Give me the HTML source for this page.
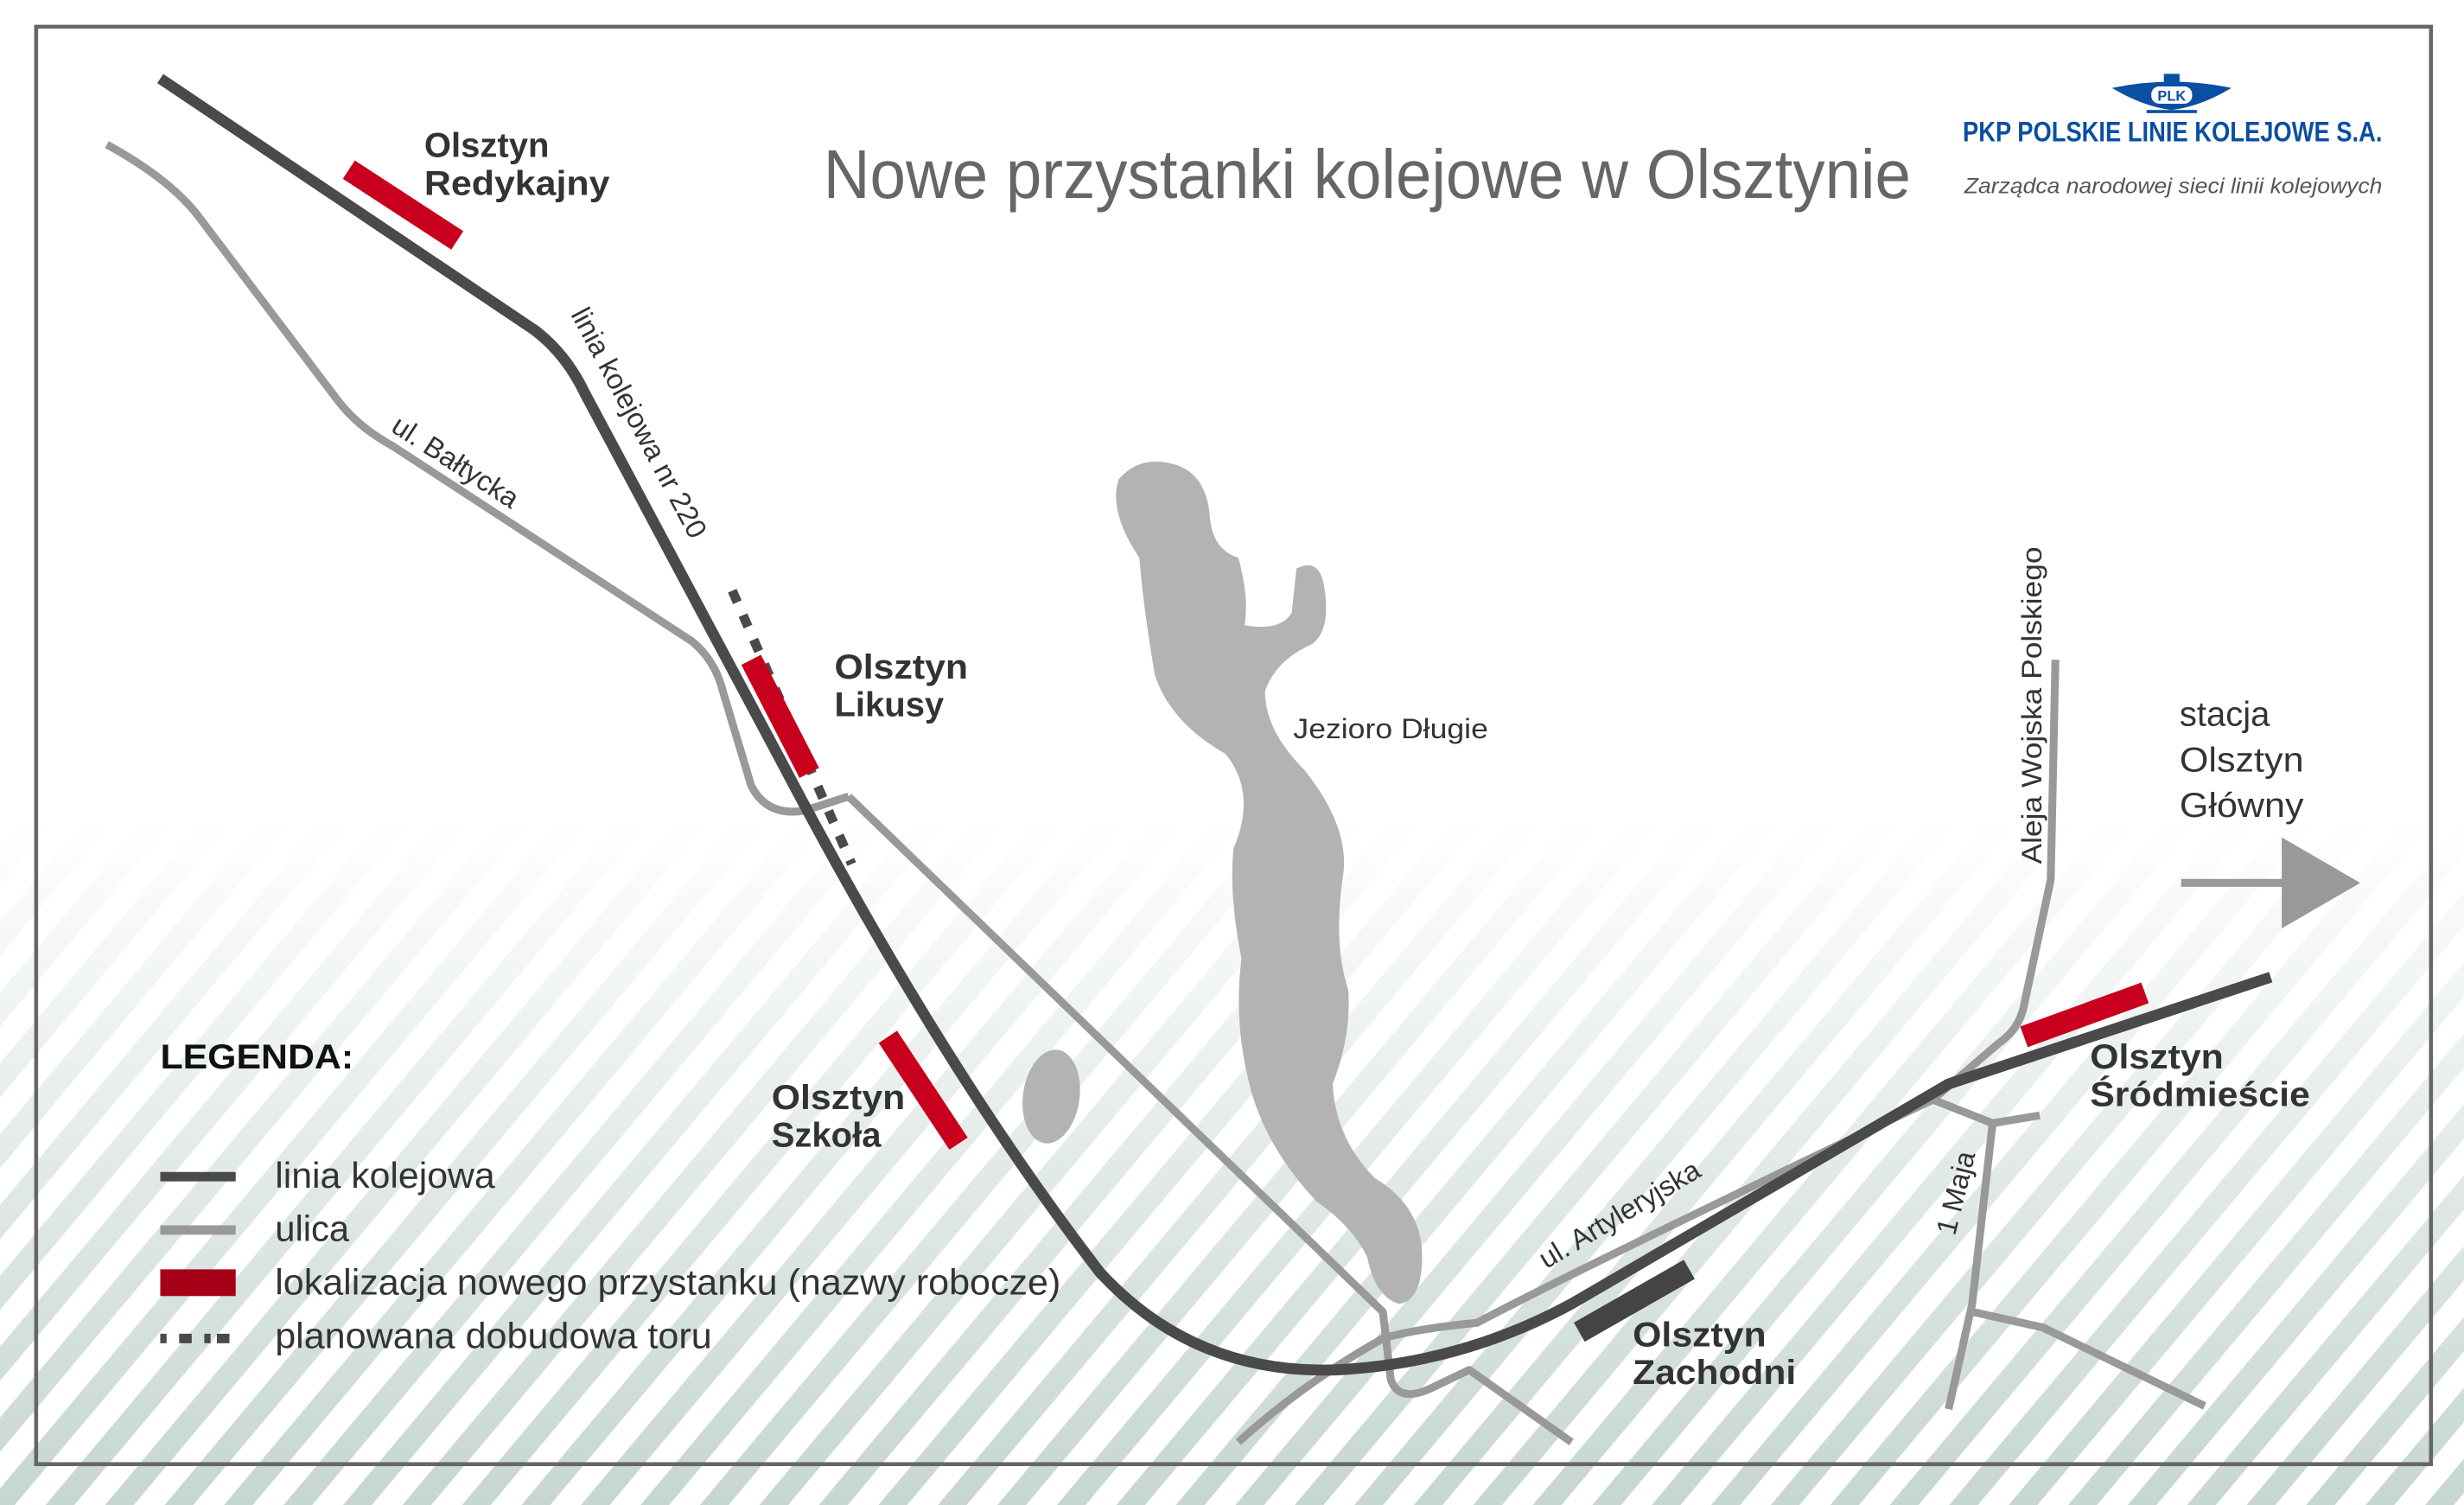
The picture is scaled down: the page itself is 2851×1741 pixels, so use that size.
<!DOCTYPE html>
<html><head><meta charset="utf-8"><style>
html,body{margin:0;padding:0;background:#fff;}
svg{display:block;}
text{font-family:"Liberation Sans",sans-serif;}
</style></head><body>
<svg width="2851" height="1741" viewBox="0 0 1568 958" preserveAspectRatio="none" xmlns="http://www.w3.org/2000/svg">
<defs>
<pattern id="st" width="29" height="29" patternUnits="userSpaceOnUse" patternTransform="rotate(-50)">
<rect x="0" y="0" width="29" height="14" fill="#c6d6d2"/>
</pattern>
<linearGradient id="fg" x1="0" y1="0" x2="0" y2="1">
<stop offset="0" stop-color="#fff" stop-opacity="0"/>
<stop offset="1" stop-color="#fff" stop-opacity="1"/>
</linearGradient>
<mask id="m"><rect x="0" y="520" width="1568" height="438" fill="url(#fg)"/></mask>
</defs>
<rect width="1568" height="958" fill="#fff"/>
<rect x="0" y="520" width="1568" height="438" fill="url(#st)" mask="url(#m)"/>
<rect x="23" y="17" width="1524" height="915" fill="none" stroke="#666" stroke-width="2.5"/>

<path d="M712,305 Q725,290 745,295 Q768,300 770,330 Q772,350 788,355 Q795,380 792,398 Q815,402 822,390 L825,362 Q838,355 842,370 Q848,400 835,410 Q812,420 805,440 Q805,465 830,490 Q858,525 855,555 Q848,600 858,630 Q860,660 848,690 Q850,725 875,750 Q905,768 905,800 Q905,828 890,830 Q875,825 870,800 Q860,780 838,765 Q805,730 795,690 Q785,650 790,610 Q782,570 785,540 Q800,505 780,480 Q745,460 735,430 Q728,390 725,355 Q705,325 712,305 Z" fill="#b3b3b3"/>
<ellipse cx="669" cy="698" rx="18" ry="30" fill="#b3b3b3" transform="rotate(8 669 698)"/>

<g fill="none" stroke="#999" stroke-width="5" stroke-linejoin="round" stroke-linecap="butt">
<path d="M68,92 Q110,115 128,140 L215,255 Q228,272 250,284 L440,408 Q455,420 460,440 L478,500 Q488,520 512,516 L540,507"/>
<path d="M540,507 L880,835 L885,878 Q890,893 910,884 L935,872 L1000,918"/>
<path d="M788,918 Q830,880 880,852 Q900,846 940,842 Q1000,810 1230,700 L1272,664 Q1285,655 1288,640 L1305,560 L1308,420"/>
<path d="M1225,698 L1268,715 L1298,710"/>
<path d="M1268,715 L1255,830 L1240,897"/>
<path d="M1255,835 L1300,845 L1403,895"/>
<path d="M1388,562 L1455,562"/>
</g>
<polygon points="1452,533 1502,562 1452,591" fill="#999"/>

<path d="M102,50 L340,210 Q360,225 372,250 L500,490 Q600,680 700,810 Q760,875 850,872 Q930,868 1000,830 L1240,690 L1445,622" fill="none" stroke="#4a4a4a" stroke-width="7"/>
<path d="M466,376 L542,550" fill="none" stroke="#4a4a4a" stroke-width="6" stroke-dasharray="8 9"/>

<g stroke-width="14">
<line x1="222" y1="108" x2="291" y2="153" stroke="#c8001e"/>
<line x1="478" y1="420" x2="515" y2="492" stroke="#c8001e"/>
<line x1="565" y1="660" x2="610" y2="728" stroke="#c8001e"/>
<line x1="1288" y1="660" x2="1365" y2="632" stroke="#c8001e"/>
<line x1="1005" y1="848" x2="1075" y2="808" stroke="#444"/>
</g>

<g font-weight="bold" font-size="22" fill="#333">
<text x="270" y="100">Olsztyn</text><text x="270" y="124" textLength="118" lengthAdjust="spacingAndGlyphs">Redykajny</text>
<text x="531" y="432" textLength="85" lengthAdjust="spacingAndGlyphs">Olsztyn</text><text x="531" y="456">Likusy</text>
<text x="491" y="706" textLength="85" lengthAdjust="spacingAndGlyphs">Olsztyn</text><text x="491" y="730">Szkoła</text>
<text x="1330" y="680" textLength="85" lengthAdjust="spacingAndGlyphs">Olsztyn</text><text x="1330" y="704" textLength="140" lengthAdjust="spacingAndGlyphs">Śródmieście</text>
<text x="1039" y="857" textLength="85" lengthAdjust="spacingAndGlyphs">Olsztyn</text><text x="1039" y="881" textLength="104" lengthAdjust="spacingAndGlyphs">Zachodni</text>
</g>
<text x="524" y="126" font-size="44" fill="#666" textLength="692" lengthAdjust="spacingAndGlyphs">Nowe przystanki kolejowe w Olsztynie</text>
<text x="823" y="470" font-size="18" fill="#333" textLength="124" lengthAdjust="spacingAndGlyphs">Jezioro Długie</text>
<text font-size="18" fill="#333" transform="translate(363,200) rotate(62)">linia kolejowa nr 220</text>
<text font-size="18" fill="#333" transform="translate(248,274) rotate(33)">ul. Bałtycka</text>
<text font-size="18" fill="#333" transform="translate(984,808) rotate(-31)">ul. Artyleryjska</text>
<text font-size="18" fill="#333" transform="translate(1244,787) rotate(-76)">1 Maja</text>
<text font-size="18" fill="#333" transform="translate(1299,550) rotate(-90)" textLength="202" lengthAdjust="spacingAndGlyphs">Aleja Wojska Polskiego</text>
<g font-size="22" fill="#333">
<text x="1387" y="462">stacja</text><text x="1387" y="491" textLength="79" lengthAdjust="spacingAndGlyphs">Olsztyn</text><text x="1387" y="520" textLength="79" lengthAdjust="spacingAndGlyphs">Główny</text>
</g>

<g fill="#0a4fa3">
<path d="M1344,56 Q1382,48 1420,56 Q1400,68 1382,70 Q1364,68 1344,56 Z"/>
<rect x="1377" y="47" width="10" height="8"/>
<rect x="1366" y="70" width="32" height="2"/>
</g>
<rect x="1369" y="55" width="26" height="11" rx="5" fill="#fff"/>
<text x="1382" y="64" font-size="9" font-weight="bold" fill="#0a4fa3" text-anchor="middle" font-family="Liberation Serif,serif">PLK</text>
<text x="1249" y="90" font-size="18" font-weight="bold" fill="#0a4fa3" textLength="267" lengthAdjust="spacingAndGlyphs">PKP POLSKIE LINIE KOLEJOWE S.A.</text>
<text x="1250" y="123" font-size="14" font-style="italic" fill="#555" textLength="266" lengthAdjust="spacingAndGlyphs">Zarządca narodowej sieci linii kolejowych</text>

<text x="102" y="680" font-size="22" font-weight="bold" fill="#111" textLength="123" lengthAdjust="spacingAndGlyphs">LEGENDA:</text>
<line x1="102" y1="749" x2="150" y2="749" stroke="#4a4a4a" stroke-width="6"/>
<line x1="102" y1="783" x2="150" y2="783" stroke="#999" stroke-width="6"/>
<rect x="102" y="808" width="48" height="17" fill="#a50016"/>
<line x1="102" y1="852" x2="150" y2="852" stroke="#4a4a4a" stroke-width="6" stroke-dasharray="4 8 8 8 4"/>
<g font-size="23" fill="#333">
<text x="175" y="756" textLength="140" lengthAdjust="spacingAndGlyphs">linia kolejowa</text>
<text x="175" y="790">ulica</text>
<text x="175" y="824" textLength="500" lengthAdjust="spacingAndGlyphs">lokalizacja nowego przystanku (nazwy robocze)</text>
<text x="175" y="858" textLength="278" lengthAdjust="spacingAndGlyphs">planowana dobudowa toru</text>
</g>
</svg>
</body></html>
